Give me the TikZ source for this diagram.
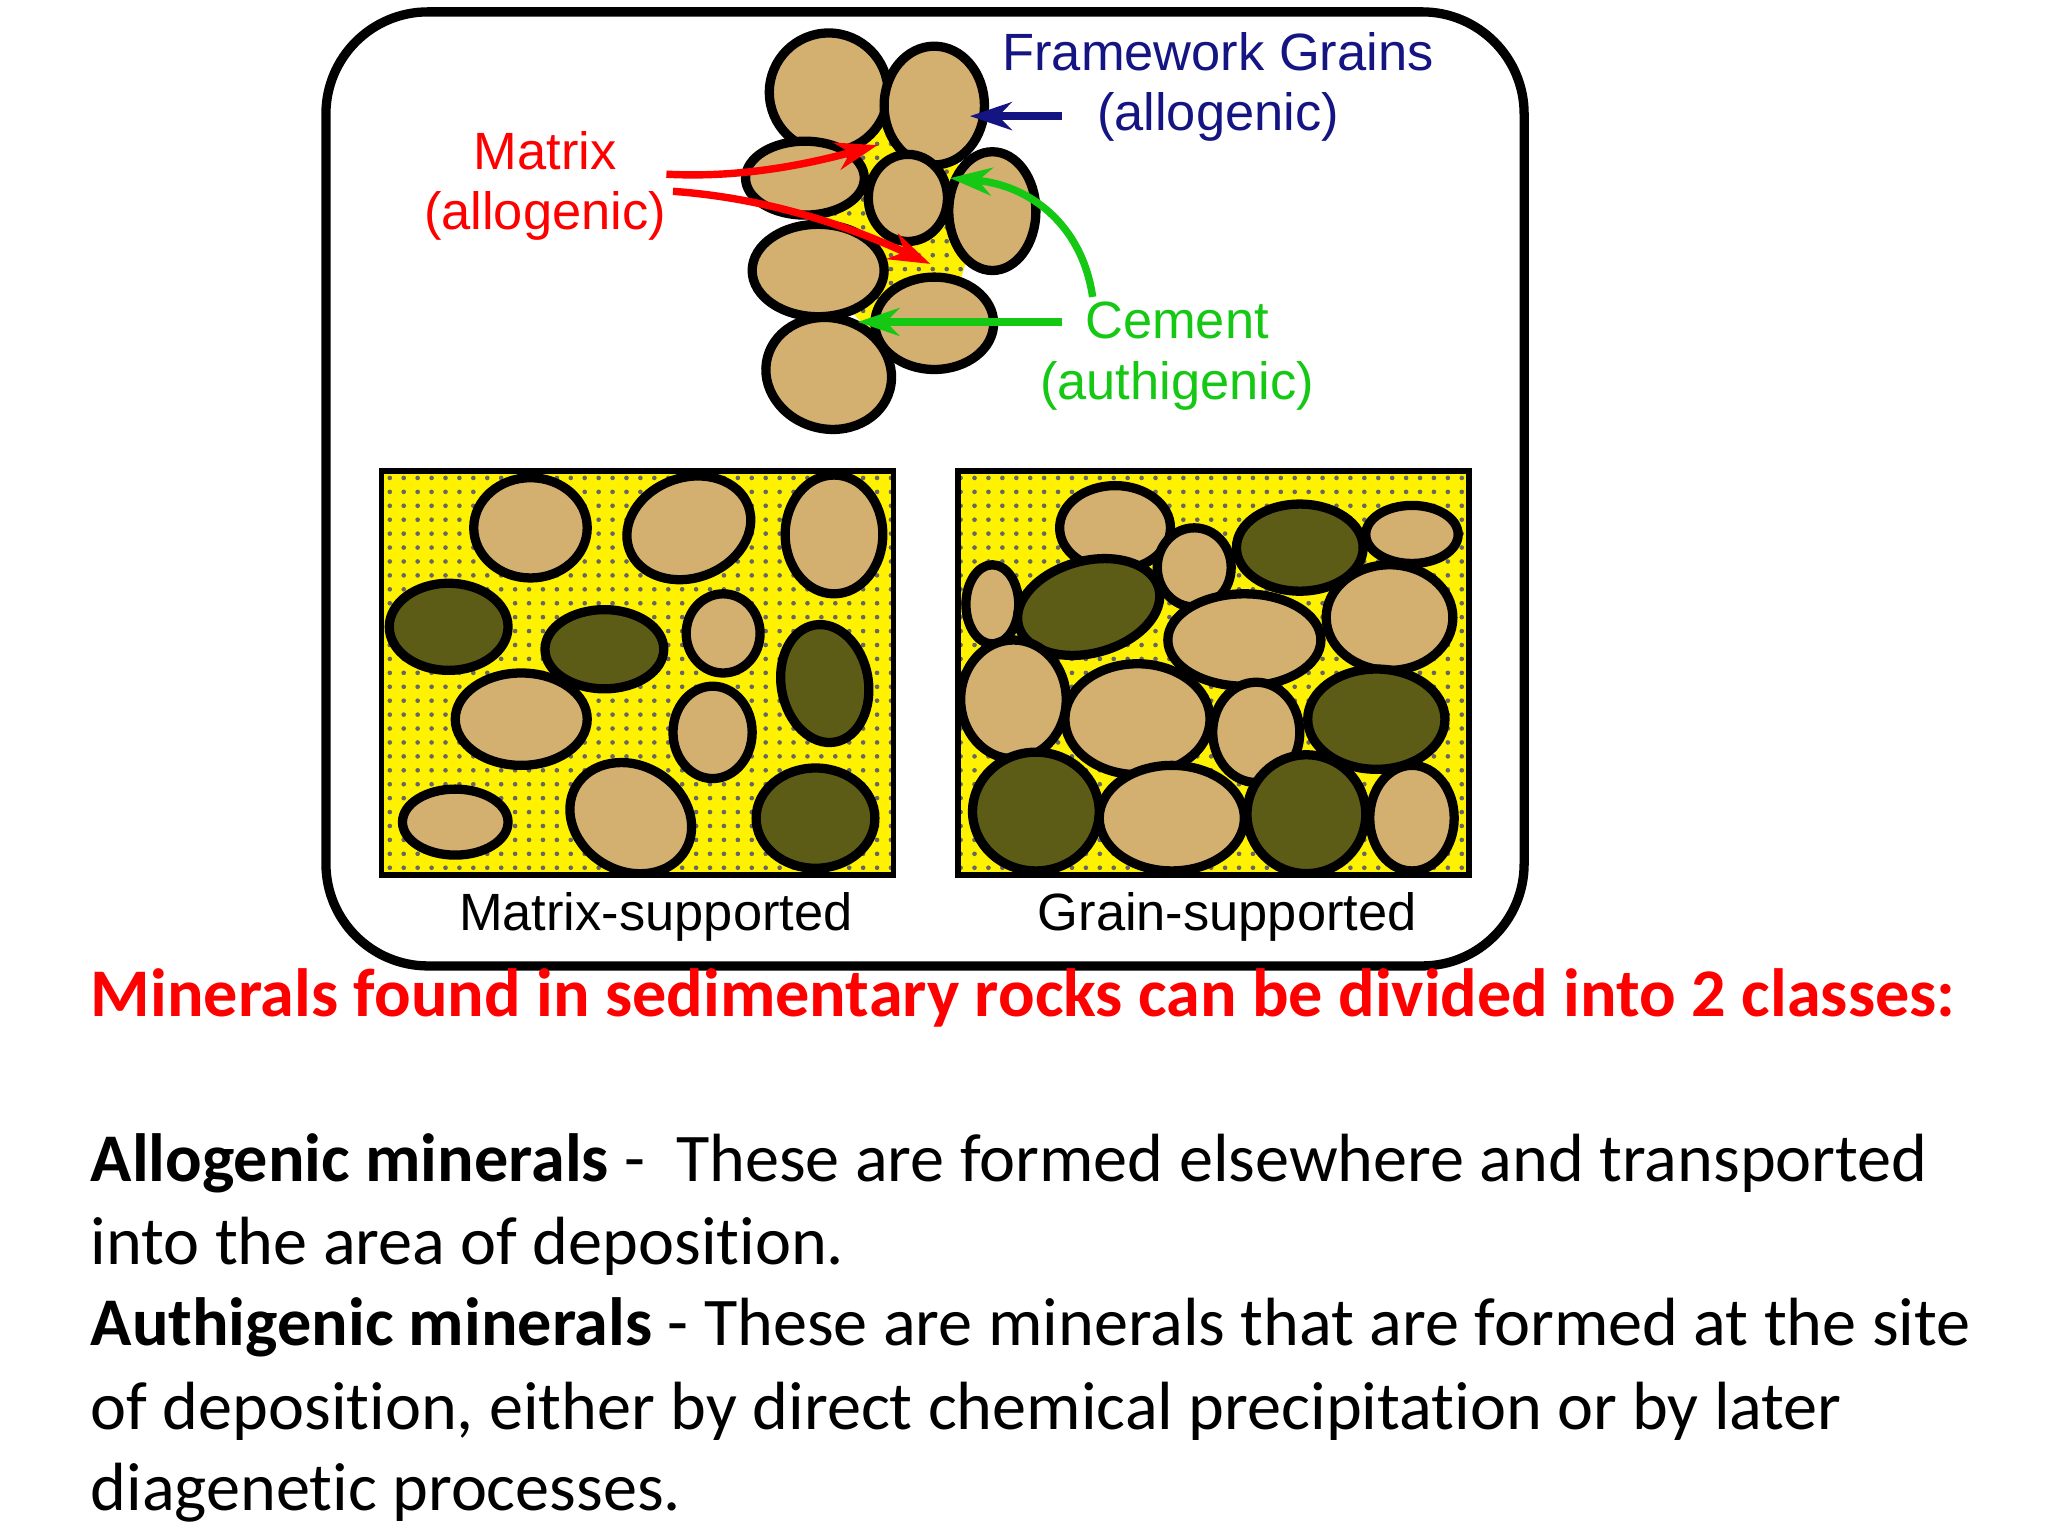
\documentclass[tikz,border=0pt]{standalone}
\usepackage{fontspec}
\setmainfont{Carlito}[Ligatures=NoCommon]
\newfontfamily\labelfont{Liberation Sans}
\usetikzlibrary{patterns,arrows.meta}
\definecolor{graintan}{RGB}{212,176,112}
\definecolor{grainolive}{RGB}{92,92,22}
\definecolor{cementgreen}{RGB}{20,200,20}
\definecolor{framenavy}{RGB}{20,20,130}
\begin{document}
\begin{tikzpicture}[
    x=0.01cm, y=-0.01cm,
    grain/.style={draw, line width=2pt, fill=graintan},
    dgrain/.style={draw, line width=2pt, fill=grainolive},
    lbl/.style={font=\labelfont\fontsize{11.3}{13}\selectfont, align=center},
    arrow/.style={-{Stealth[length=9pt,width=6pt]}, line width=1.6pt},
    body/.style={anchor=base west, inner sep=0pt, font=\fontsize{14.7}{17.8}\selectfont}
]
\useasboundingbox (0,0) rectangle (1552,1164);

% Outer frame
\draw[line width=2pt, rounded corners=22pt] (247,9) rectangle (1155,732);

% Top cluster: matrix behind, then grains
\fill[yellow] (680,170) ellipse [x radius=55, y radius=85];
\fill[pattern=dots, pattern color=black!60] (680,170) ellipse [x radius=55, y radius=85];
\foreach \x/\y/\rx/\ry/\r in {628/70/45/45/0, 708/80/38/45/0, 610/135/45/28/0,
    688/150/30/33/0, 752/160/33/45/0, 620/205/50/35/0, 708/245/45/35/0, 628/283/48/42/-15}
  \draw[grain, rotate around={\r:(\x,\y)}] (\x,\y) ellipse [x radius=\rx, y radius=\ry];

% Labels
\node[lbl, text=framenavy] (frame) at (923,66) {Framework Grains\\(allogenic)};
\node[lbl, text=red] (matrix) at (413,141) {Matrix\\(allogenic)};
\node[lbl, text=cementgreen] (cement) at (892,270) {Cement\\(authigenic)};
\coordinate (frameTip) at (735,88);
\coordinate (matTipA) at (665,110);
\coordinate (matTipB) at (705,200);
\coordinate (cemTipA) at (720,135);
\coordinate (cemTipB) at (650,244);

\draw[arrow, framenavy] (805,88) -- (frameTip);
\draw[arrow, red] (505,132) .. controls (560,135) and (610,125) .. (matTipA);
\draw[arrow, red] (510,145) .. controls (580,150) and (640,170) .. (matTipB);
\draw[arrow, cementgreen] (828,225) .. controls (820,170) and (780,140) .. (cemTipA);
\draw[arrow, cementgreen] (805,244) -- (cemTipB);

% Bottom panels
\foreach \lx in {289,726} {
  \fill[yellow] (\lx,357) rectangle +(388,306);
  \fill[pattern=dots, pattern color=black!60] (\lx,357) rectangle +(388,306);
}
\begin{scope}
  \clip (289,357) rectangle (677,663);
  \foreach \x/\y/\rx/\ry/\r/\c in {402/400/43/38/0/grain, 522/400/48/38/20/grain,
      632/405/37/45/0/grain, 340/475/45/33/0/dgrain, 458/492/45/30/0/dgrain,
      548/480/28/30/0/grain, 625/518/33/45/10/dgrain, 395/545/50/35/0/grain,
      540/555/30/35/0/grain, 345/623/40/25/0/grain, 478/620/48/40/-30/grain,
      618/620/45/38/0/dgrain}
    \draw[\c, rotate around={\r:(\x,\y)}] (\x,\y) ellipse [x radius=\rx, y radius=\ry];
\end{scope}
\begin{scope}
  \clip (726,357) rectangle (1114,663);
  \foreach \x/\y/\rx/\ry/\r/\c in {845/400/42/32/0/grain, 905/430/28/30/0/grain,
      985/415/48/33/0/dgrain, 1070/405/35/22/0/grain, 752/458/20/30/0/grain,
      825/460/55/35/15/dgrain, 943/485/58/35/0/grain, 1053/468/48/40/0/grain,
      768/530/40/45/0/grain, 862/545/55/42/0/grain, 952/555/33/38/0/grain,
      1043/545/52/38/0/dgrain, 785/615/48/45/0/dgrain, 888/620/55/40/0/grain,
      990/617/45/45/0/dgrain, 1070/620/32/40/0/grain}
    \draw[\c, rotate around={\r:(\x,\y)}] (\x,\y) ellipse [x radius=\rx, y radius=\ry];
\end{scope}
\draw[line width=1.2pt] (289,357) rectangle (677,663);
\draw[line width=1.2pt] (726,357) rectangle (1113,663);
\node[lbl] (matsup) at (497,695) {Matrix-supported};
\node[lbl] (grsup) at (930,695) {Grain-supported};

% Text below
\node[body, text=red, font=\bfseries\fontsize{14.7}{17.8}\selectfont] (title) at (68,770)
  {Minerals found in sedimentary rocks can be divided into 2 classes:};
\node[body] (alloA) at (68,895) {\textbf{Allogenic minerals} -\ \ These are formed elsewhere and transported};
\node[body] (alloB) at (68,958) {into the area of deposition.};
\node[body] (authA) at (68,1020) {\textbf{Authigenic minerals} - These are minerals that are formed at the site};
\node[body] (authB) at (68,1083) {of deposition, either by direct chemical precipitation or by later};
\node[body] (authC) at (68,1145) {diagenetic processes.};
\end{tikzpicture}
\end{document}
